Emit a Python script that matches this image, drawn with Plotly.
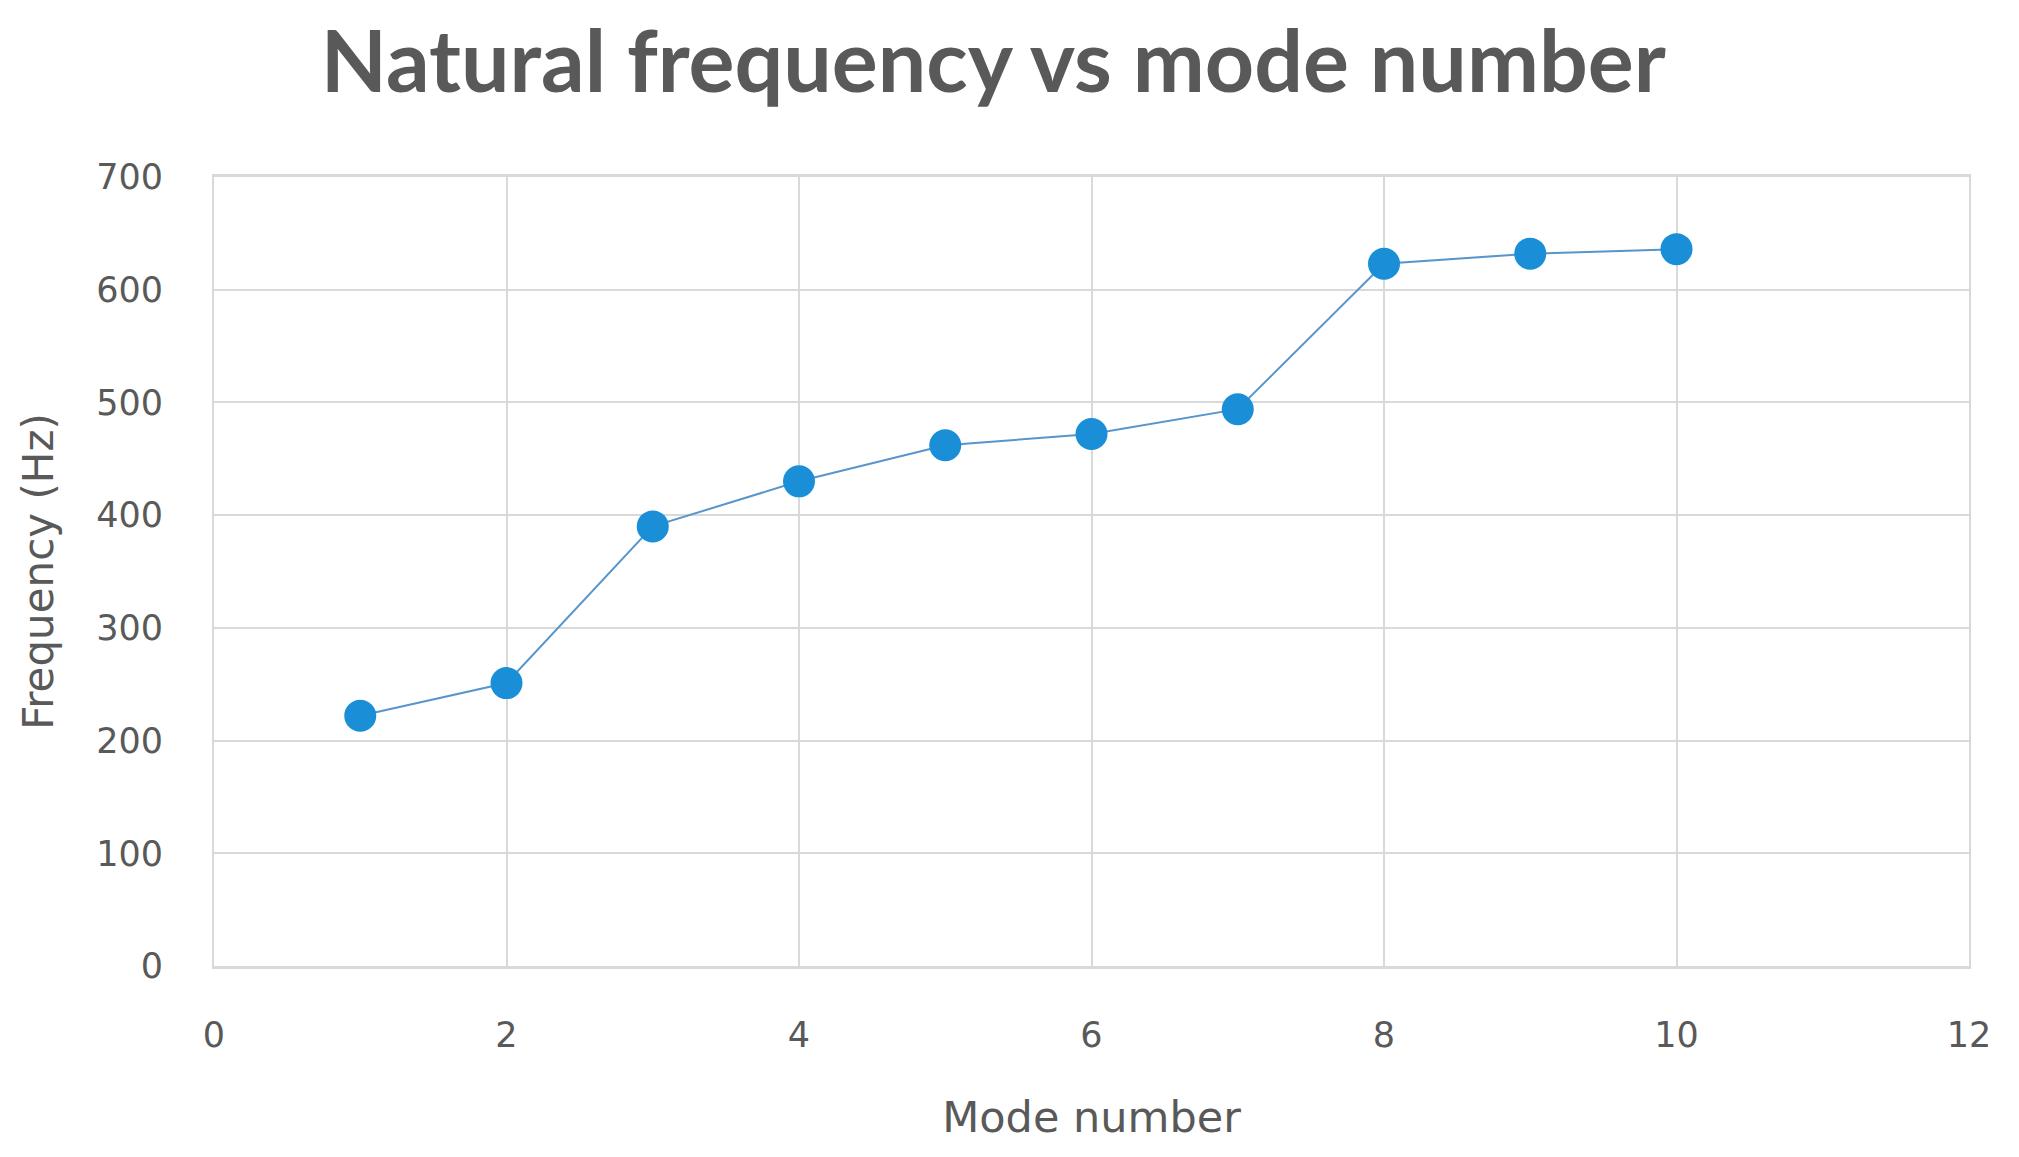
import plotly.graph_objects as go

mode_number = [1, 2, 3, 4, 5, 6, 7, 8, 9, 10]
frequency_hz = [222, 251, 390, 430, 462, 472, 494, 623, 632, 636]

x_ticks = [0, 2, 4, 6, 8, 10, 12]
y_ticks = [0, 100, 200, 300, 400, 500, 600, 700]

text_color = "#595959"
grid_color = "#d9d9d9"

fig = go.Figure()
fig.add_trace(go.Scatter(
    x=mode_number, y=frequency_hz, mode="lines+markers",
    line=dict(color="#5795cc", width=2),
    marker=dict(color="#1a8fd8", size=32, line=dict(width=0)),
    showlegend=False,
))

fig.update_layout(
    width=2019, height=1157,
    margin=dict(l=206, r=58, t=169, b=199),
    paper_bgcolor="white", plot_bgcolor="white",
    title=dict(text="<b>Natural frequency vs mode number</b>",
               x=0.488, xanchor="center", y=0.953, yanchor="middle",
               font=dict(family="Lato", size=86, color=text_color)),
    font=dict(family="DejaVu Sans", color=text_color),
)
fig.update_xaxes(
    range=[0, 12], tickvals=x_ticks, ticktext=[str(v) for v in x_ticks],
    showgrid=True, gridcolor=grid_color, gridwidth=2,
    zeroline=False, showline=True, linecolor=grid_color, linewidth=3,
    mirror=True, ticks="", ticklabelstandoff=36,
    tickfont=dict(family="DejaVu Sans", size=35, color=text_color),
    title=dict(text="Mode number", standoff=48,
               font=dict(family="DejaVu Sans", size=43, color=text_color)),
)
fig.update_yaxes(
    range=[0, 700], tickvals=y_ticks, ticktext=[str(v) for v in y_ticks],
    showgrid=True, gridcolor=grid_color, gridwidth=2,
    zeroline=False, showline=True, linecolor=grid_color, linewidth=2,
    mirror=True, ticks="", ticklabelstandoff=42,
    tickfont=dict(family="DejaVu Sans", size=35, color=text_color),
    title=dict(text="Frequency (Hz)", standoff=29,
               font=dict(family="DejaVu Sans", size=42, color=text_color)),
)

fig.write_html("out.html")
